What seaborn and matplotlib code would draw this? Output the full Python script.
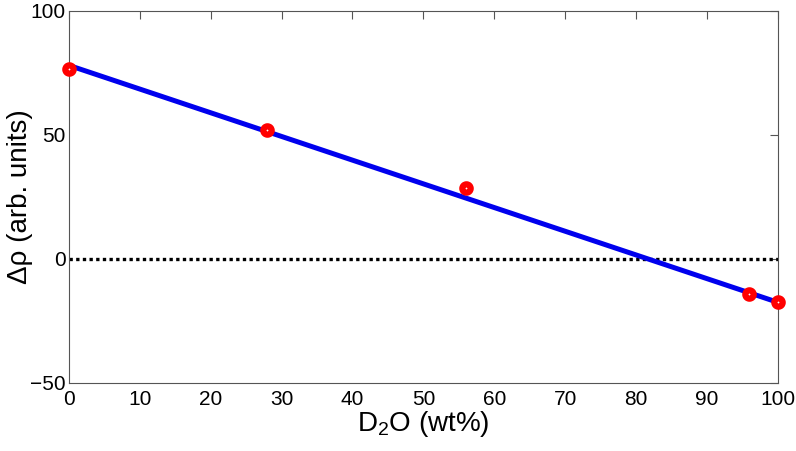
import matplotlib
matplotlib.use("Agg")
import matplotlib.pyplot as plt
import seaborn as sns
import pandas as pd

# measured points
d2o_wt = [0, 28, 56, 96, 100]
delta_rho = [76.5, 52, 28.5, -14, -17.5]

# linear fit, endpoints
fit_x = [0, 100]
fit_y = [78, -17.5]

x_ticks = [0, 10, 20, 30, 40, 50, 60, 70, 80, 90, 100]
y_ticks = [-50, 0, 50, 100]

sns.set_style("white")
plt.rcParams['font.family'] = ['Liberation Sans', 'DejaVu Sans']
plt.rcParams['mathtext.fontset'] = 'custom'
plt.rcParams['mathtext.rm'] = 'Liberation Sans'
plt.rcParams['mathtext.default'] = 'regular'
plt.rcParams['text.color'] = 'black'
plt.rcParams['axes.labelcolor'] = 'black'
plt.rcParams['xtick.labelcolor'] = 'black'
plt.rcParams['ytick.labelcolor'] = 'black'

points = pd.DataFrame({"x": d2o_wt, "y": delta_rho})
fit = pd.DataFrame({"x": fit_x, "y": fit_y})

fig = plt.figure(figsize=(7.96, 4.51), dpi=100)
ax = fig.add_axes([0.0867, 0.151, 0.8903, 0.825])

ax.axhline(0, color="black", linestyle=(0, (1, 1)), linewidth=2.4, zorder=1)
sns.lineplot(data=fit, x="x", y="y", color="#0000ee", linewidth=3.6, ax=ax, zorder=2)
sns.scatterplot(data=points, x="x", y="y", ax=ax, marker="o", s=36,
                facecolor="white", edgecolor="#ff0000", linewidth=4.5,
                zorder=3, clip_on=False)

ax.set_xlim(0, 100)
ax.set_ylim(-50, 100)
ax.set_xticks(x_ticks)
ax.set_yticks(y_ticks)
ax.tick_params(direction="in", length=6, width=0.8, color="#555555",
               labelsize=15, top=True, right=True)
ax.tick_params(axis="x", pad=5)
ax.tick_params(axis="y", pad=2.5)
for sp in ax.spines.values():
    sp.set_color("#555555")
    sp.set_linewidth(0.8)

ax.set_xlabel("D$_2$O (wt%)", fontsize=20, labelpad=0)
ax.set_ylabel("Δρ (arb. units)", fontsize=20, labelpad=-2)

fig.savefig("out.png", dpi=100)
